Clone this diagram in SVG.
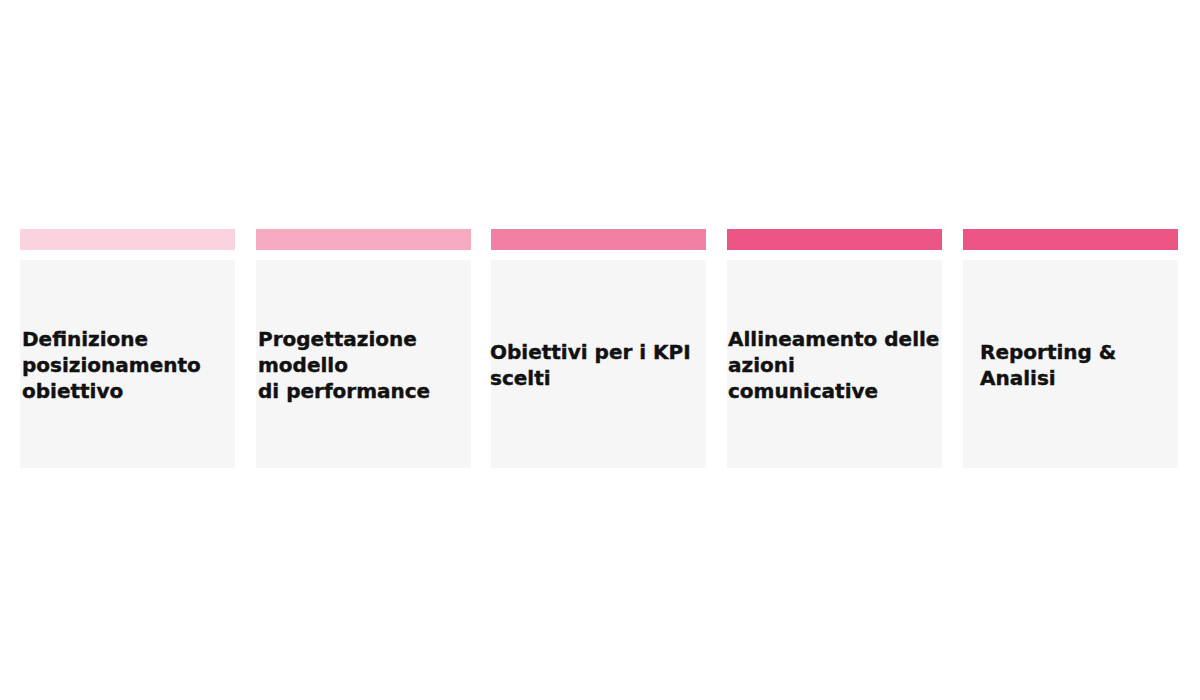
<svg xmlns="http://www.w3.org/2000/svg" width="1200" height="700" viewBox="0 0 1200 700">
<style>
.box{fill:#f6f6f6}
.t{font-family:"DejaVu Sans","Liberation Sans",sans-serif;font-weight:bold;font-size:20px;fill:#111111;stroke:#111111;stroke-width:0.4}
</style>
<rect width="1200" height="700" fill="#ffffff"/>
<g id="step1">
<rect x="20" y="229" width="215" height="21" fill="#fad3de"/>
<rect class="box" x="20" y="260" width="215" height="208"/>
<text class="t" x="22" y="346">Definizione</text>
<text class="t" x="22" y="372">posizionamento</text>
<text class="t" x="22" y="398">obiettivo</text>
</g>
<g id="step2">
<rect x="256" y="229" width="215" height="21" fill="#f6aabf"/>
<rect class="box" x="256" y="260" width="215" height="208"/>
<text class="t" x="258" y="346">Progettazione</text>
<text class="t" x="258" y="372">modello</text>
<text class="t" x="258" y="398">di performance</text>
</g>
<g id="step3">
<rect x="491" y="229" width="215" height="21" fill="#f081a2"/>
<rect class="box" x="491" y="260" width="215" height="208"/>
<text class="t" x="490" y="359">Obiettivi per i KPI</text>
<text class="t" x="490" y="385">scelti</text>
</g>
<g id="step4">
<rect x="727" y="229" width="215" height="21" fill="#ea5584"/>
<rect class="box" x="727" y="260" width="215" height="208"/>
<text class="t" x="728" y="346">Allineamento delle</text>
<text class="t" x="728" y="372">azioni</text>
<text class="t" x="728" y="398">comunicative</text>
</g>
<g id="step5">
<rect x="963" y="229" width="215" height="21" fill="#ea5584"/>
<rect class="box" x="963" y="260" width="215" height="208"/>
<text class="t" x="980" y="359">Reporting &amp;</text>
<text class="t" x="980" y="385">Analisi</text>
</g>
<g id="connectors"/>
</svg>
